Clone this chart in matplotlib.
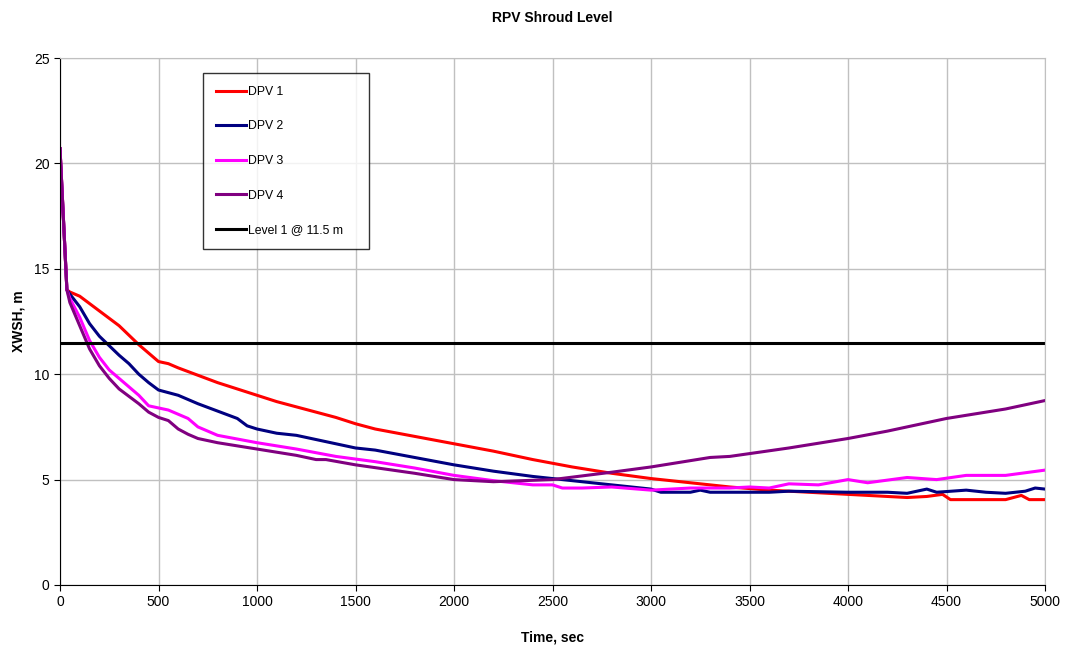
import matplotlib.pyplot as plt

plt.rcParams['font.family'] = ['Liberation Sans', 'DejaVu Sans']

# time, sec / shroud level, m for each DPV case
t1 = [0, 35, 50, 100, 200, 300, 400, 500, 550, 600, 700, 800, 900, 1000, 1100, 1200, 1300,
      1400, 1500, 1600, 1800, 2000, 2200, 2400, 2600, 2800, 3000, 3200, 3400, 3600, 3800,
      4000, 4200, 4300, 4400, 4480, 4520, 4800, 4880, 4920, 5000]
dpv1 = [20.7, 14.0, 13.9, 13.7, 13.0, 12.3, 11.4, 10.6, 10.5, 10.3, 9.95, 9.6, 9.3, 9.0, 8.7,
        8.45, 8.2, 7.95, 7.65, 7.4, 7.05, 6.7, 6.35, 5.95, 5.6, 5.3, 5.05, 4.85, 4.65, 4.5,
        4.4, 4.3, 4.2, 4.15, 4.2, 4.3, 4.05, 4.05, 4.25, 4.05, 4.05]

t2 = [0, 35, 50, 100, 150, 200, 300, 350, 400, 450, 500, 600, 700, 800, 900, 950, 1000, 1100,
      1200, 1300, 1400, 1500, 1600, 1800, 2000, 2200, 2400, 2600, 2800, 3000, 3050, 3200,
      3250, 3300, 3400, 3600, 3700, 4000, 4200, 4300, 4400, 4450, 4600, 4700, 4800, 4900,
      4950, 5000]
dpv2 = [20.7, 14.0, 13.8, 13.2, 12.4, 11.8, 10.9, 10.5, 10.0, 9.6, 9.25, 9.0, 8.6, 8.25, 7.9,
        7.55, 7.4, 7.2, 7.1, 6.9, 6.7, 6.5, 6.4, 6.05, 5.7, 5.4, 5.15, 4.95, 4.75, 4.55, 4.4,
        4.4, 4.5, 4.4, 4.4, 4.4, 4.45, 4.4, 4.4, 4.35, 4.55, 4.4, 4.5, 4.4, 4.35, 4.45, 4.6,
        4.55]

t3 = [0, 35, 50, 100, 150, 200, 250, 300, 350, 400, 450, 500, 550, 600, 650, 700, 800, 1000,
      1200, 1400, 1600, 1800, 2000, 2200, 2400, 2500, 2550, 2650, 2800, 3000, 3200, 3400,
      3500, 3600, 3700, 3850, 4000, 4100, 4300, 4450, 4600, 4800, 5000]
dpv3 = [20.7, 14.0, 13.6, 12.7, 11.6, 10.8, 10.2, 9.8, 9.4, 9.0, 8.5, 8.4, 8.3, 8.1, 7.9, 7.5,
        7.1, 6.75, 6.45, 6.1, 5.85, 5.55, 5.2, 4.95, 4.75, 4.75, 4.6, 4.6, 4.65, 4.5, 4.6,
        4.6, 4.65, 4.6, 4.8, 4.75, 5.0, 4.85, 5.1, 5.0, 5.2, 5.2, 5.45]

t4 = [0, 35, 50, 100, 150, 200, 250, 300, 350, 400, 450, 500, 550, 600, 650, 700, 800, 1000,
      1200, 1300, 1350, 1500, 1800, 2000, 2200, 2500, 2800, 3000, 3300, 3400, 3700, 4000,
      4200, 4500, 4800, 5000]
dpv4 = [20.7, 14.0, 13.4, 12.3, 11.2, 10.4, 9.8, 9.3, 8.95, 8.6, 8.2, 7.95, 7.8, 7.4, 7.15,
        6.95, 6.75, 6.45, 6.15, 5.95, 5.95, 5.7, 5.3, 5.0, 4.9, 5.0, 5.35, 5.6, 6.05, 6.1,
        6.5, 6.95, 7.3, 7.9, 8.35, 8.75]

level1 = 11.5

fig = plt.figure(figsize=(10.65, 6.51), dpi=100)
ax = fig.add_axes([60 / 1065, 1 - 585 / 651, 985 / 1065, 527 / 651])

ax.plot(t1, dpv1, color='#ff0000', lw=2.2, label='DPV 1')
ax.plot(t2, dpv2, color='#000080', lw=2.2, label='DPV 2')
ax.plot(t3, dpv3, color='#ff00ff', lw=2.2, label='DPV 3')
ax.plot(t4, dpv4, color='#800080', lw=2.2, label='DPV 4')
ax.plot([0, 5000], [level1, level1], color='black', lw=2.2, label='Level 1 @ 11.5 m')

ax.set_xlim(0, 5000)
ax.set_ylim(0, 25)
ax.set_xticks(range(0, 5001, 500))
ax.set_yticks(range(0, 26, 5))
ax.grid(True, color='#c0c0c0', lw=1)
ax.set_axisbelow(True)
ax.tick_params(labelsize=10, length=4, direction='out', color='black')
for s in ['top', 'right']:
    ax.spines[s].set_color('#c0c0c0')
for s in ['left', 'bottom']:
    ax.spines[s].set_color('black')

ax.set_title('RPV Shroud Level', fontsize=10, fontweight='bold', pad=26)
ax.set_xlabel('Time, sec', fontsize=10, fontweight='bold', labelpad=15)
ax.set_ylabel('XWSH, m', fontsize=10, fontweight='bold', labelpad=6)

# legend box spans a fixed width inside the plot area
leg = ax.legend(loc='upper left', bbox_to_anchor=(143 / 985, 1 - 15 / 527, 166 / 985, 0),
                mode='expand', fontsize=8.8, frameon=True, fancybox=False,
                edgecolor='black', handlelength=2.5, handletextpad=0.15,
                labelspacing=1.85, borderpad=1.05, borderaxespad=0)
leg.get_frame().set_linewidth(1)

fig.savefig('out.png', dpi=100, facecolor='white')
